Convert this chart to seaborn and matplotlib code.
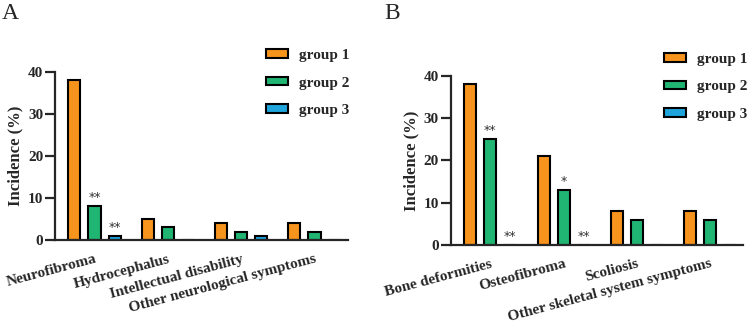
import matplotlib
matplotlib.use("Agg")
import matplotlib.pyplot as plt
import seaborn as sns
import pandas as pd

# Panel A: neurological symptoms
cats_a = ["Neurofibroma", "Hydrocephalus", "Intellectual disability", "Other neurological symptoms"]
g1_a = [38, 5, 4, 4]
g2_a = [8, 3, 2, 2]
g3_a = [1, 0, 1, 0]
stars_a = {("Neurofibroma", "group 2"): "**", ("Neurofibroma", "group 3"): "**"}

# Panel B: skeletal symptoms
cats_b = ["Bone deformities", "Osteofibroma", "Scoliosis", "Other skeletal system symptoms"]
g1_b = [38, 21, 8, 8]
g2_b = [25, 13, 6, 6]
g3_b = [0, 0, 0, 0]
stars_b = {("Bone deformities", "group 2"): "**", ("Bone deformities", "group 3"): "**",
           ("Osteofibroma", "group 2"): "*", ("Osteofibroma", "group 3"): "**"}

groups = ["group 1", "group 2", "group 3"]
colors = ["#F7941D", "#21B573", "#1FA4DC"]


def make_df(cats, g1, g2, g3):
    rows = []
    for g, vals in zip(groups, [g1, g2, g3]):
        for c, v in zip(cats, vals):
            rows.append({"Symptom": c, "Group": g, "Incidence": v})
    return pd.DataFrame(rows)


sns.set_style("ticks")
plt.rcParams["font.family"] = ["Liberation Serif", "DejaVu Serif"]

fig = plt.figure(figsize=(7.5, 3.27), dpi=100)
ax_a = fig.add_axes([0.0733, 0.266, 0.391, 0.515])
ax_b = fig.add_axes([0.601, 0.251, 0.39, 0.517])


def draw(ax, df, cats, stars, xlim, legend_anchor):
    sns.barplot(data=df, x="Symptom", y="Incidence", hue="Group", order=cats,
                hue_order=groups, palette=colors, width=0.82, gap=0.4,
                edgecolor="black", linewidth=1.5, saturation=1, ax=ax)
    ax.set_ylim(0, 40)
    ax.set_yticks([0, 10, 20, 30, 40])
    ax.set_xlim(*xlim)
    ax.set_xlabel("")
    ax.set_ylabel("Incidence (%)", fontsize=12, fontweight="bold", labelpad=3)
    for s in ["top", "right"]:
        ax.spines[s].set_visible(False)
    for s in ["left", "bottom"]:
        ax.spines[s].set_linewidth(1.6)
    ax.tick_params(axis="y", width=1.6, length=7, pad=1.5, labelsize=11)
    ax.tick_params(axis="x", length=0, labelsize=11, pad=9)
    for lab in ax.get_yticklabels():
        lab.set_fontweight("bold")
    ax.set_xticks(range(len(cats)))
    ax.set_xticklabels(cats, rotation=15, ha="right", fontweight="bold",
                       rotation_mode="anchor")
    # stars over bars
    bars = [p for p in ax.patches if p.get_width() > 0][: len(cats) * len(groups)]
    for i, p in enumerate(bars):
        g = groups[i // len(cats)]
        c = cats[i % len(cats)]
        if (c, g) in stars:
            ax.text(p.get_x() + p.get_width() / 2, p.get_height() + 0.5, stars[(c, g)],
                    ha="center", va="bottom", fontsize=9, color="#333333",
                    family="DejaVu Sans")
    ax.legend(title=None, frameon=False, loc="upper left", bbox_to_anchor=legend_anchor,
              bbox_transform=fig.transFigure, handlelength=1.44, handleheight=0.5,
              labelspacing=0.95, handletextpad=0.72, borderpad=0, borderaxespad=0,
              prop={"weight": "bold", "size": 11})


draw(ax_a, make_df(cats_a, g1_a, g2_a, g3_a), cats_a, stars_a, (-0.539, 3.46), (0.355, 0.85))
draw(ax_b, make_df(cats_b, g1_b, g2_b, g3_b), cats_b, stars_b, (-0.54, 3.45), (0.885, 0.838))

fig.text(0.003, 0.99, "A", fontsize=17, va="top", ha="left")
fig.text(0.513, 0.99, "B", fontsize=17, va="top", ha="left")

fig.savefig("out.png", dpi=100)
